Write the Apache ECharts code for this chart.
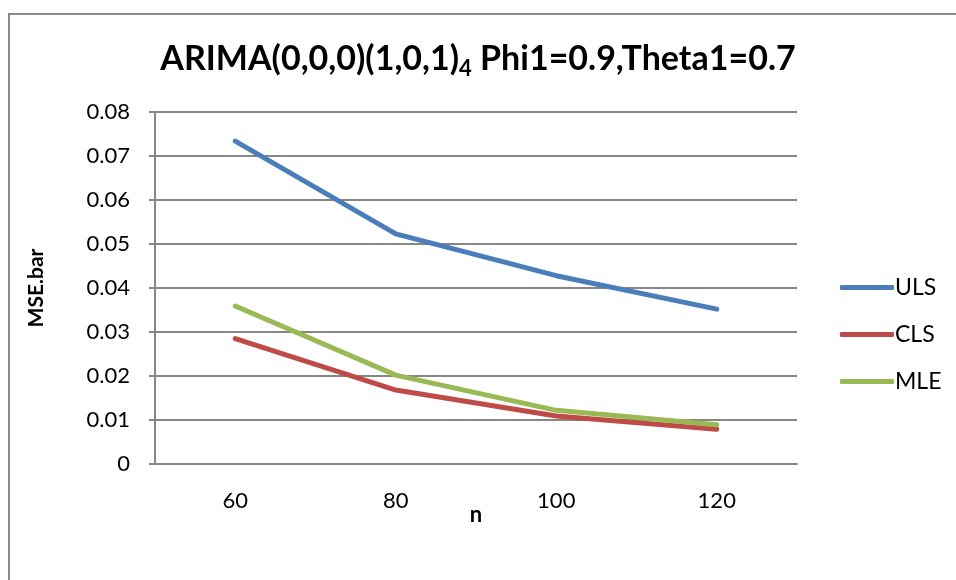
<!DOCTYPE html>
<html>
<head>
<meta charset="utf-8">
<script src="https://cdn.jsdelivr.net/npm/echarts@6/dist/echarts.min.js"></script>
<style>
html,body{margin:0;padding:0;background:#fff;}
#chart{width:956px;height:580px;}
</style>
</head>
<body>
<div id="chart"></div>
<script>
// 数据
var categories = ['60', '80', '100', '120'];
var uls = [0.0734, 0.0523, 0.0428, 0.0352];
var cls = [0.0285, 0.0168, 0.0109, 0.0079];
var mle = [0.0359, 0.0202, 0.0122, 0.0089];

var font = 'Lato';

option = {
    textStyle: { fontFamily: font },
    graphic: [{
        type: 'polyline',
        shape: { points: [[9, 600], [9, 14], [980, 14]] },
        style: { fill: null, stroke: '#8a8a8a', lineWidth: 2 },
        silent: true
    }],
    title: {
        text: '{m|ARIMA(0,0,0)(1,0,1)}{s|4}{m| Phi1=0.9,Theta1=0.7}',
        left: 'center',
        top: 33,
        textStyle: {
            rich: {
                m: { fontSize: 34, fontWeight: 'bold', color: '#000', fontFamily: font, lineHeight: 42 },
                s: { fontSize: 22, fontWeight: 'bold', color: '#000', fontFamily: font, lineHeight: 42, padding: [20, 0, 0, 0] }
            }
        }
    },
    legend: {
        orient: 'vertical',
        left: 835,
        top: 271,
        itemWidth: 54,
        itemHeight: 5,
        itemGap: 24,
        icon: 'roundRect',
        data: ['ULS', 'CLS', 'MLE'],
        textStyle: { fontSize: 23, lineHeight: 20, color: '#000', fontFamily: font, padding: [0, 0, 0, -4] }
    },
    grid: {
        left: 155,
        right: 159,
        top: 112,
        bottom: 116
    },
    xAxis: {
        type: 'category',
        data: categories,
        boundaryGap: true,
        name: 'n',
        nameLocation: 'middle',
        nameGap: 40,
        nameMoveOverlap: false,
        nameTextStyle: { fontSize: 22, fontWeight: 'bold', color: '#000' },
        axisLine: { lineStyle: { color: '#868686', width: 2 } },
        axisTick: { show: false },
        axisLabel: { fontSize: 22, color: '#000', margin: 26 }
    },
    yAxis: {
        type: 'value',
        min: 0,
        max: 0.08,
        interval: 0.01,
        name: 'MSE.bar',
        nameLocation: 'middle',
        nameGap: 108,
        nameTextStyle: { fontSize: 21, fontWeight: 'bold', color: '#000' },
        axisLine: { show: true, lineStyle: { color: '#868686', width: 2 } },
        axisTick: { show: true, length: 6, lineStyle: { color: '#868686', width: 2 } },
        splitLine: { lineStyle: { color: '#868686', width: 2 } },
        axisLabel: { fontSize: 22, color: '#000', margin: 25 }
    },
    series: [
        {
            name: 'ULS', type: 'line', data: uls, symbol: 'none',
            itemStyle: { color: '#4a7ebb' },
            lineStyle: { width: 5, color: '#4a7ebb', cap: 'round' }
        },
        {
            name: 'CLS', type: 'line', data: cls, symbol: 'none',
            itemStyle: { color: '#be4b48' },
            lineStyle: { width: 5, color: '#be4b48', cap: 'round' }
        },
        {
            name: 'MLE', type: 'line', data: mle, symbol: 'none',
            itemStyle: { color: '#98b954' },
            lineStyle: { width: 5, color: '#98b954', cap: 'round' }
        }
    ]
};

var myChart = echarts.init(document.getElementById('chart'));
myChart.setOption(option);
window.addEventListener('resize', function () {
    myChart.resize();
});
</script>
</body>
</html>
